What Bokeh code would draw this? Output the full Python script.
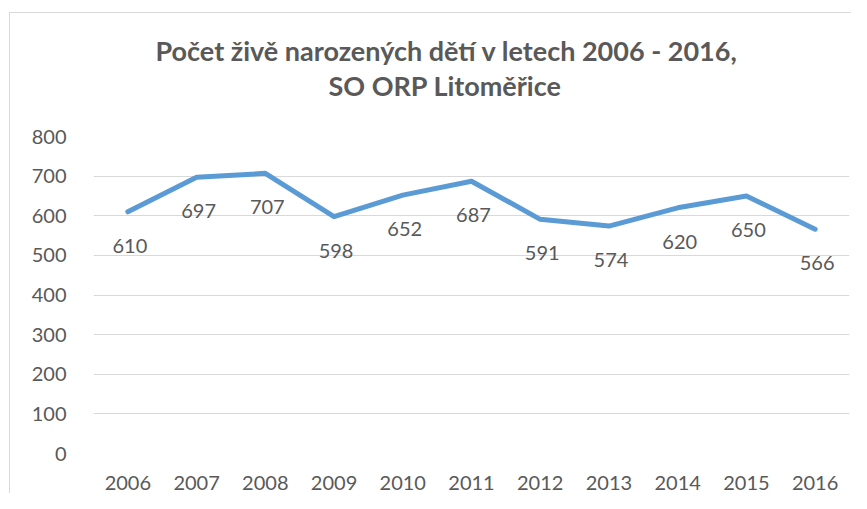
from bokeh.plotting import figure
from bokeh.models import FactorRange, Range1d, FixedTicker, ColumnDataSource, Title
from bokeh.core.properties import value
from bokeh.embed import file_html
from bokeh.resources import INLINE

years = ["2006", "2007", "2008", "2009", "2010", "2011", "2012", "2013", "2014", "2015", "2016"]
births = [610, 697, 707, 598, 652, 687, 591, 574, 620, 650, 566]
y_ticks = [0, 100, 200, 300, 400, 500, 600, 700, 800]
title_line1 = "Počet živě narozených dětí v letech 2006 - 2016,"
title_line2 = "SO ORP Litoměřice"

TEXT = "#595959"
FONT = "Lato"

src = ColumnDataSource(dict(year=years, births=births, label=[str(v) for v in births]))

p = figure(width=851, height=489,
           x_range=FactorRange(factors=years, range_padding=0),
           y_range=Range1d(0, 800),
           output_backend="svg", toolbar_location=None,
           min_border_left=93, min_border_right=2, min_border_bottom=40, min_border_top=132)
p.margin = (4, 0, 0, 0)
p.styles = {
    "background": ("linear-gradient(#D9D9D9, #D9D9D9) 9px 8px / 1px 100% no-repeat, "
                   "linear-gradient(#D9D9D9, #D9D9D9) 9px 8px / 100% 1px no-repeat, white"),
}

# outermost title line
p.title.text = title_line1
p.title.align = "left"
p.title.offset = 62
p.title.text_font = FONT
p.title.text_font_size = "27px"
p.title.text_font_style = "bold"
p.title.text_color = TEXT
p.title.standoff = 0

# spacer between plot area and second line (added first = closest to the frame)
p.add_layout(Title(text=" ", text_font_size="1px", standoff=32), "above")
p.add_layout(Title(text=title_line2, align="left", offset=235, text_font=FONT,
                   text_font_size="27px", text_font_style="bold", text_color=TEXT,
                   standoff=0), "above")

p.line(x="year", y="births", source=src, line_color="#5B9BD5", line_width=5,
       line_join="round", line_cap="round")
p.text(x="year", y="births", text="label", source=src, x_offset=2, y_offset=34,
       text_align="center", text_baseline="middle", text_font=value(FONT),
       text_font_size="20px", text_color=TEXT)

p.outline_line_color = None
p.xgrid.grid_line_color = None
p.ygrid.grid_line_color = "#D9D9D9"
p.ygrid.grid_line_width = 1
p.yaxis.ticker = FixedTicker(ticks=y_ticks)

for ax in (p.xaxis, p.yaxis):
    ax.axis_line_color = None
    ax.major_tick_line_color = None
    ax.minor_tick_line_color = None
    ax.major_label_text_font = FONT
    ax.major_label_text_font_size = "20px"
    ax.major_label_text_color = TEXT
p.yaxis.major_label_standoff = 21
p.xaxis.major_label_standoff = 16

p.background_fill_color = "white"
p.border_fill_color = None

open("out.html", "w").write(file_html(p, INLINE))
